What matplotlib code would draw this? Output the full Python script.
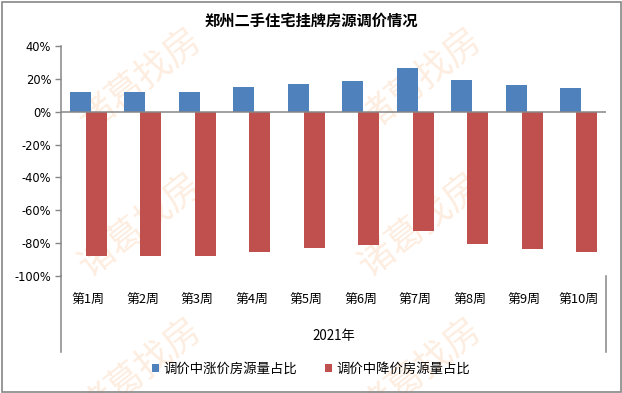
import matplotlib
matplotlib.use("Agg")
import matplotlib.pyplot as plt
from matplotlib.patches import Rectangle

plt.rcParams['font.family'] = ['Noto Sans CJK SC', 'DejaVu Sans']

title = "郑州二手住宅挂牌房源调价情况"
weeks = ["第1周", "第2周", "第3周", "第4周", "第5周", "第6周", "第7周", "第8周", "第9周", "第10周"]
group_label = "2021年"
rise_share = [12.2, 12.2, 12.2, 15.2, 17.1, 18.9, 26.8, 19.5, 16.5, 14.6]
fall_share = [-87.6, -87.6, -87.6, -85.2, -82.7, -80.9, -72.9, -80.3, -83.3, -85.2]
series_names = ["调价中涨价房源量占比", "调价中降价房源量占比"]
y_ticks = [40, 20, 0, -20, -40, -60, -80, -100]
y_ticklabels = ["40%", "20%", "0%", "-20%", "-40%", "-60%", "-80%", "-100%"]
watermark = "诸葛找房"

W, H = 622, 393
fig = plt.figure(figsize=(W / 100, H / 100), dpi=100)
ax_l, ax_r, ax_t, ax_b = 61, 606, 46, 276
ax = fig.add_axes([ax_l / W, 1 - ax_b / H, (ax_r - ax_l) / W, (ax_b - ax_t) / H])
ax.patch.set_alpha(0)

x = list(range(len(weeks)))
bw = 0.39
off = 0.148
b1 = ax.bar([i - off for i in x], rise_share, width=bw, color="#4F81BD", zorder=2, label=series_names[0])
b2 = ax.bar([i + off for i in x], fall_share, width=bw, color="#C0504D", zorder=2, label=series_names[1])

ax.set_xlim(-0.5, len(weeks) - 0.5)
ax.set_ylim(-100, 40)
ax.set_yticks(y_ticks)
ax.set_yticklabels(y_ticklabels, fontsize=8.3, family=['DejaVu Sans'])
ax.tick_params(axis='y', length=4, width=1, color='#868686', pad=3)

ax.set_xticks(x)
ax.set_xticklabels(weeks, fontsize=9.3)
ax.tick_params(axis='x', length=0, pad=13)

for s in ['top', 'right', 'bottom']:
    ax.spines[s].set_visible(False)
ax.spines['left'].set_color('#868686')
ax.spines['left'].set_linewidth(1.1)
ax.axhline(0, color='#868686', linewidth=1.1, zorder=3)

ext = (352 - ax_b) / (ax_b - ax_t)
ax.plot([0, 0], [0, -ext], transform=ax.transAxes, color='#868686', lw=1.1, clip_on=False)
ax.plot([1, 1], [0, -ext], transform=ax.transAxes, color='#868686', lw=1.1, clip_on=False)
ax.text(0.5, -(335.7 - ax_b) / (ax_b - ax_t), group_label, transform=ax.transAxes,
        ha='center', va='center', fontsize=9.6)

fig.text(0.5, 1 - 20.5 / H, title, ha='center', va='center', fontsize=11, fontweight='bold')

fig.legend(handles=[b1, b2], labels=series_names, loc='center',
           bbox_to_anchor=(311 / W, 1 - 369 / H), ncol=2, frameon=False,
           fontsize=9.6, handlelength=0.5, handleheight=0.5, handletextpad=0.35,
           columnspacing=2.1)

# watermark (behind the bars)
for cx in (140, 420):
    for cy in (80, 225, 370):
        fig.text(cx / W, 1 - cy / H, watermark, ha='center', va='center', fontsize=26,
                 rotation=38, color='#F79646', alpha=0.17, zorder=-1)

fig.patches.append(Rectangle((1.5 / W, 1.5 / H), (W - 3) / W, (H - 3) / H,
                             transform=fig.transFigure, fill=False,
                             edgecolor='#868686', linewidth=1.2))

fig.savefig("out.png", dpi=100)
